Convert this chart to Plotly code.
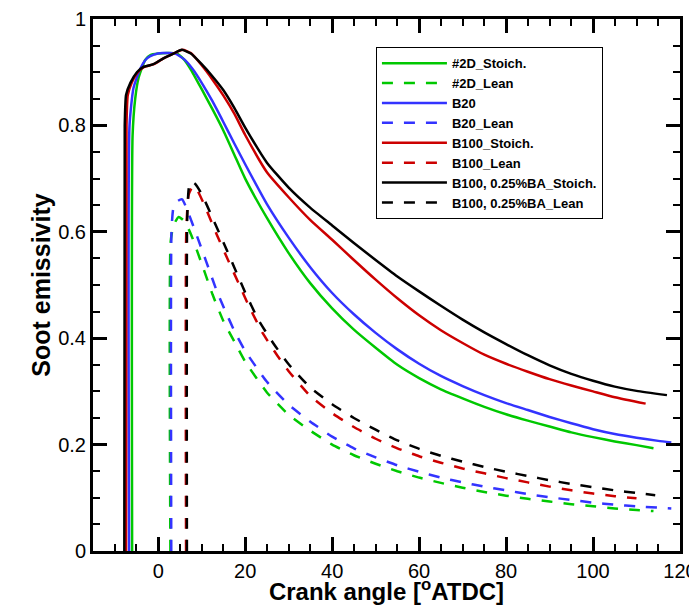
import plotly.graph_objects as go

# ---- data ----
x_2d_st = [-6.0, -5.9, -5.3, -4.5, -3.0, -1.8, 0.0, 2.0, 4.3, 5.8, 7.5, 10.0, 12.5, 15.0, 17.5, 20.0, 25.0, 30.0, 35.0, 40.0, 45.0, 50.0, 55.0, 60.0, 65.0, 70.0, 75.0, 80.0, 85.0, 90.0, 95.0, 100.0, 105.0, 110.0, 113.9]
y_2d_st = [0.0, 0.78, 0.85, 0.89, 0.923, 0.932, 0.935, 0.936, 0.935, 0.925, 0.905, 0.868, 0.830, 0.790, 0.745, 0.700, 0.626, 0.560, 0.503, 0.456, 0.416, 0.382, 0.350, 0.325, 0.304, 0.287, 0.271, 0.257, 0.245, 0.234, 0.223, 0.214, 0.206, 0.199, 0.193]

x_2d_ln = [2.8, 2.85, 3.5, 4.7, 6.0, 7.5, 10.0, 12.5, 15.0, 17.5, 20.0, 25.0, 30.0, 35.0, 40.0, 45.0, 50.0, 55.0, 60.0, 65.0, 70.0, 75.0, 80.0, 85.0, 90.0, 95.0, 100.0, 105.0, 110.0, 113.9]
y_2d_ln = [0.0, 0.58, 0.612, 0.628, 0.620, 0.596, 0.540, 0.482, 0.432, 0.394, 0.356, 0.298, 0.256, 0.226, 0.200, 0.180, 0.164, 0.150, 0.138, 0.128, 0.119, 0.111, 0.104, 0.098, 0.093, 0.088, 0.084, 0.080, 0.077, 0.075]

x_b20 = [-6.7, -6.6, -5.7, -4.1, -2.6, -1.0, 1.0, 3.9, 6.0, 8.0, 10.0, 12.5, 15.0, 17.5, 20.0, 25.0, 30.0, 35.0, 40.0, 45.0, 50.0, 55.0, 60.0, 65.0, 70.0, 75.0, 80.0, 85.0, 90.0, 95.0, 100.0, 105.0, 110.0, 115.0, 118.0]
y_b20 = [0.0, 0.80, 0.87, 0.907, 0.926, 0.933, 0.936, 0.935, 0.924, 0.905, 0.880, 0.845, 0.806, 0.766, 0.727, 0.652, 0.589, 0.533, 0.485, 0.445, 0.410, 0.379, 0.352, 0.329, 0.310, 0.293, 0.278, 0.265, 0.252, 0.240, 0.229, 0.220, 0.213, 0.207, 0.204]

x_b20_ln = [3.0, 3.05, 3.5, 4.5, 5.5, 7.0, 9.0, 11.0, 13.5, 15.0, 17.5, 20.0, 25.0, 30.0, 35.0, 40.0, 45.0, 50.0, 55.0, 60.0, 65.0, 70.0, 75.0, 80.0, 85.0, 90.0, 95.0, 100.0, 105.0, 110.0, 118.0]
y_b20_ln = [0.0, 0.60, 0.645, 0.658, 0.661, 0.634, 0.590, 0.545, 0.488, 0.459, 0.414, 0.376, 0.318, 0.275, 0.243, 0.215, 0.193, 0.176, 0.161, 0.149, 0.138, 0.129, 0.121, 0.114, 0.107, 0.101, 0.096, 0.091, 0.087, 0.084, 0.080]

x_b100_st = [-7.4, -7.3, -7.0, -6.1, -4.7, -3.2, -1.0, 1.2, 3.5, 5.6, 7.5, 10.0, 12.5, 15.0, 17.5, 20.0, 25.0, 30.0, 35.0, 40.0, 45.0, 50.0, 55.0, 60.0, 65.0, 70.0, 75.0, 80.0, 85.0, 90.0, 95.0, 100.0, 105.0, 112.1]
y_b100_st = [0.0, 0.80, 0.857, 0.88, 0.90, 0.91, 0.915, 0.926, 0.935, 0.942, 0.936, 0.913, 0.886, 0.856, 0.822, 0.782, 0.712, 0.665, 0.622, 0.585, 0.547, 0.510, 0.475, 0.443, 0.415, 0.391, 0.369, 0.352, 0.337, 0.323, 0.311, 0.300, 0.289, 0.277]

x_b100_ln = [6.4, 6.45, 7.0, 8.0, 9.0, 11.0, 13.5, 16.0, 18.5, 21.0, 24.0, 27.5, 30.0, 35.0, 40.0, 45.0, 50.0, 55.0, 60.0, 65.0, 70.0, 75.0, 80.0, 85.0, 90.0, 95.0, 100.0, 105.0, 110.0]
y_b100_ln = [0.0, 0.60, 0.670, 0.686, 0.678, 0.643, 0.594, 0.548, 0.503, 0.458, 0.410, 0.366, 0.338, 0.291, 0.259, 0.233, 0.211, 0.193, 0.178, 0.166, 0.155, 0.146, 0.137, 0.129, 0.121, 0.114, 0.108, 0.103, 0.099]

x_ba_st = [-7.8, -7.7, -7.4, -6.4, -4.9, -3.4, -1.1, 1.2, 3.5, 5.4, 7.5, 10.0, 12.5, 15.0, 17.5, 20.0, 25.0, 30.0, 35.0, 40.0, 45.0, 50.0, 55.0, 60.0, 65.0, 70.0, 75.0, 80.0, 85.0, 90.0, 95.0, 100.0, 105.0, 110.0, 117.0]
y_ba_st = [0.0, 0.80, 0.857, 0.88, 0.90, 0.91, 0.915, 0.926, 0.935, 0.942, 0.935, 0.915, 0.892, 0.866, 0.833, 0.796, 0.730, 0.683, 0.645, 0.612, 0.579, 0.547, 0.516, 0.488, 0.461, 0.435, 0.411, 0.389, 0.368, 0.349, 0.333, 0.320, 0.309, 0.301, 0.293]

x_ba_ln = [6.6, 6.65, 7.0, 7.5, 8.5, 10.0, 12.5, 15.0, 17.5, 20.0, 23.0, 26.5, 30.0, 35.0, 40.0, 45.0, 50.0, 55.0, 60.0, 65.0, 70.0, 75.0, 80.0, 85.0, 90.0, 95.0, 100.0, 105.0, 110.0, 114.3]
y_ba_ln = [0.0, 0.62, 0.680, 0.695, 0.690, 0.671, 0.626, 0.580, 0.533, 0.486, 0.435, 0.390, 0.351, 0.307, 0.276, 0.250, 0.228, 0.208, 0.192, 0.179, 0.168, 0.158, 0.149, 0.141, 0.133, 0.126, 0.120, 0.114, 0.109, 0.105]

series = [
    ("#2D_Stoich.", x_2d_st, y_2d_st, "#00c800", "solid"),
    ("#2D_Lean", x_2d_ln, y_2d_ln, "#00c800", "dash"),
    ("B20", x_b20, y_b20, "#3333ff", "solid"),
    ("B20_Lean", x_b20_ln, y_b20_ln, "#3333ff", "dash"),
    ("B100_Stoich.", x_b100_st, y_b100_st, "#cc0000", "solid"),
    ("B100_Lean", x_b100_ln, y_b100_ln, "#cc0000", "dash"),
    ("B100, 0.25%BA_Stoich.", x_ba_st, y_ba_st, "#000000", "solid"),
    ("B100, 0.25%BA_Lean", x_ba_ln, y_ba_ln, "#000000", "dash"),
]

FONT = "Liberation Sans, Arial, sans-serif"

fig = go.Figure()
for name, xs, ys, col, style in series:
    dash = "solid" if style == "solid" else "11px,11px"
    fig.add_trace(go.Scatter(
        x=xs, y=ys, name=name, mode="lines",
        line=dict(color=col, width=2.5, dash=dash, shape="spline", smoothing=0.5),
    ))

axis_common = dict(
    showline=True, linecolor="black", linewidth=3, mirror="ticks",
    ticks="inside", ticklen=14, tickwidth=3, tickcolor="black",
    showgrid=False, zeroline=False, automargin=False,
    tickfont=dict(family=FONT, size=20, color="black"),
)

fig.update_xaxes(
    range=[-15, 120], tick0=0, dtick=20,
    minor=dict(dtick=5, ticks="inside", ticklen=7, tickwidth=1.5, tickcolor="black"),
    title=dict(text="Crank angle [<sup>o</sup>ATDC]",
               font=dict(family=FONT, size=24, color="black", weight="bold"), standoff=1),
    **axis_common,
)
fig.update_yaxes(
    range=[0, 1], tick0=0, dtick=0.2,
    minor=dict(dtick=0.05, ticks="inside", ticklen=7, tickwidth=1.5, tickcolor="black"),
    title=dict(text="Soot emissivity",
               font=dict(family=FONT, size=25, color="black", weight="bold"), standoff=1),
    **axis_common,
)

# the page body has an 8px margin, so the figure is sized/placed to compensate
fig.update_layout(
    width=689, height=597,
    margin=dict(l=85, r=17, t=11, b=54),
    paper_bgcolor="white", plot_bgcolor="white",
    legend=dict(
        x=0.482, y=0.947, xanchor="left", yanchor="top",
        bgcolor="white", bordercolor="black", borderwidth=1,
        font=dict(family=FONT, size=13, color="black", weight="bold"),
        itemwidth=65, tracegroupgap=0,
    ),
    showlegend=True,
)

fig.write_html("out.html")
